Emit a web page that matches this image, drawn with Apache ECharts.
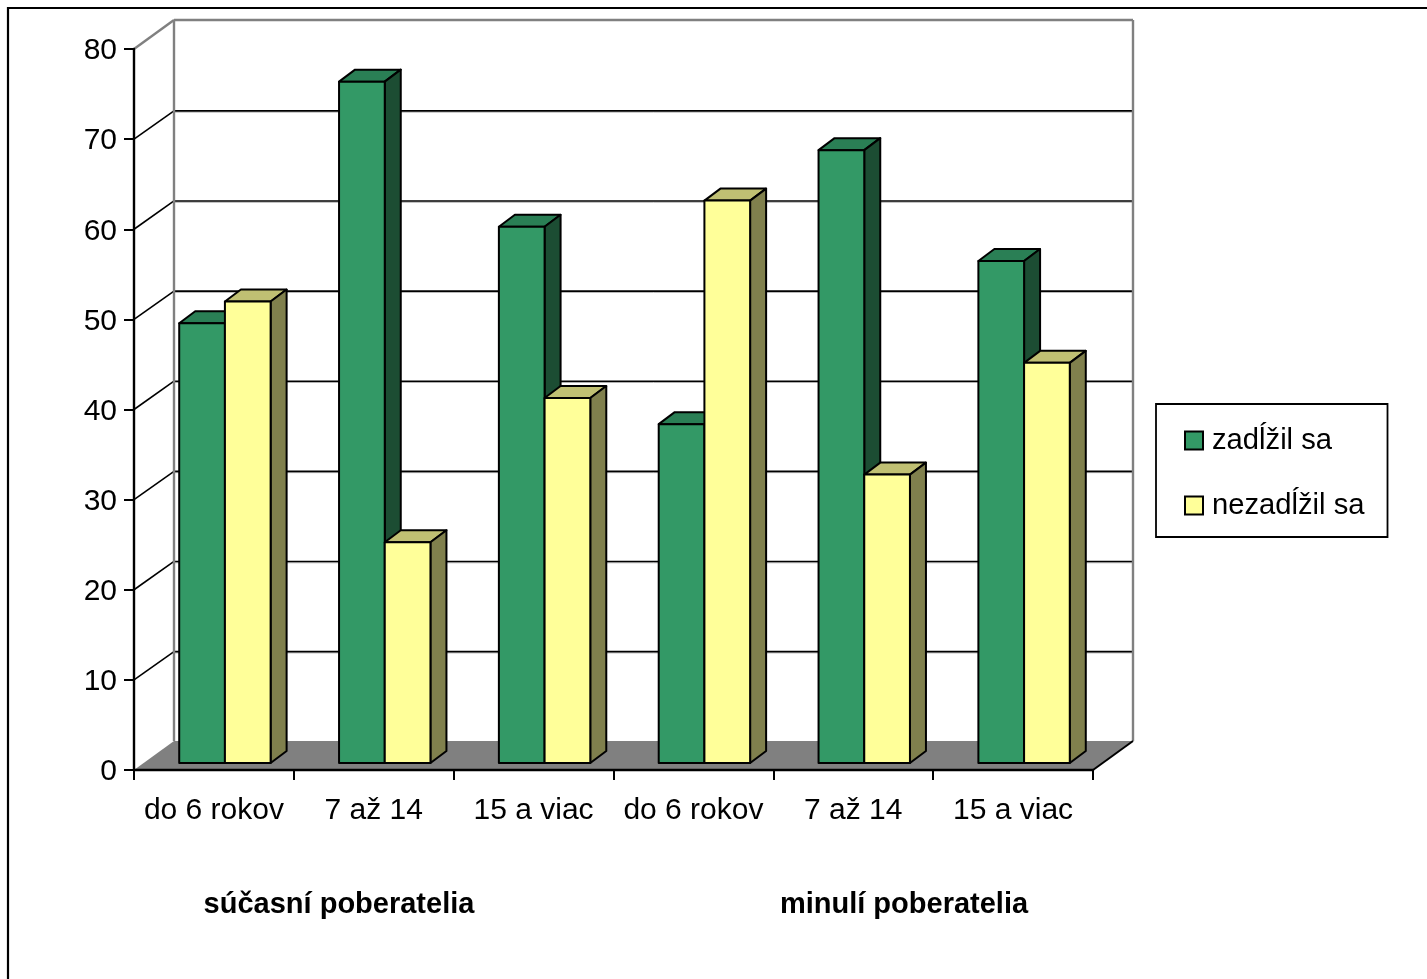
<!DOCTYPE html>
<html><head><meta charset="utf-8">
<style>html,body{margin:0;padding:0;background:#fff;overflow:hidden}#c{width:1427px;height:979px}</style>
<script src="https://cdn.jsdelivr.net/npm/echarts@6/dist/echarts.min.js"></script>
</head><body><div id="c"></div>
<script>
const categories = ['do 6 rokov','7 až 14','15 a viac','do 6 rokov','7 až 14','15 a viac'];
const zadlzil = [48.8,75.6,59.5,37.6,68,55.7];
const nezadlzil = [51.2,24.5,40.5,62.4,32,44.4];
const seriesNames = ['zadĺžil sa','nezadĺžil sa'];
const groupLabels = ['súčasní poberatelia','minulí poberatelia'];
const yTicks = [10,20,30,40,50,60,70];

const FONT = '"Liberation Sans", Arial, sans-serif';
const DX = 40, DY = -29;          // depth of the chart box
const BW = 45.7, BD_X = 16, BD_Y = -12, OFF_X = 11, OFF_Y = -7;  // bar box geometry

const chart = echarts.init(document.getElementById('c'), null, {renderer:'canvas'});

function barRender(side, front, top, sideCol){
  return function(params, api){
    const i = api.value(0), v = api.value(1);
    const p = api.coord([i, v]), b = api.coord([i, 0]);
    const cx = p[0] + OFF_X;
    const x0 = side === 0 ? cx - BW : cx, x1 = x0 + BW;
    const yT = p[1] + OFF_Y, yB = b[1] + OFF_Y;
    const ln = {stroke:'#000', lineWidth:2, lineJoin:'round'};
    return {type:'group', children:[
      {type:'polygon', shape:{points:[[x0,yT],[x1,yT],[x1+BD_X,yT+BD_Y],[x0+BD_X,yT+BD_Y]]}, style:{fill:top,...ln}},
      {type:'polygon', shape:{points:[[x1,yT],[x1+BD_X,yT+BD_Y],[x1+BD_X,yB+BD_Y],[x1,yB]]}, style:{fill:sideCol,...ln}},
      {type:'rect', shape:{x:x0,y:yT,width:BW,height:yB-yT}, style:{fill:front,...ln}}
    ]};
  };
}

function wallRender(params, api){
  const cs = params.coordSys;
  const L = cs.x, R = cs.x + cs.width;
  const yZ = api.coord([0,0])[1], yM = api.coord([0,80])[1];
  const gray = '#808080';
  const ch = [];
  ch.push({type:'polygon', shape:{points:[[L,yZ],[L+DX,yZ+DY],[R+DX,yZ+DY],[R,yZ]]}, style:{fill:gray, stroke:'none'}});
  yTicks.forEach(t=>{
    const y = api.coord([0,t])[1];
    ch.push({type:'line', shape:{x1:L+DX,y1:y+DY+2,x2:R+DX,y2:y+DY+2}, style:{stroke:'#b0b0b0',lineWidth:1}});
    ch.push({type:'line', shape:{x1:L+DX,y1:y+DY+0.7,x2:R+DX,y2:y+DY+0.7}, style:{stroke:'#000',lineWidth:1.6}});
    ch.push({type:'line', shape:{x1:L,y1:y,x2:L+DX,y2:y+DY+0.7}, style:{stroke:'#000',lineWidth:1.6}});
  });
  const w = {stroke:gray, lineWidth:2.4};
  ch.push({type:'line', shape:{x1:L+DX,y1:yM+DY,x2:L+DX,y2:yZ+DY}, style:w});
  ch.push({type:'line', shape:{x1:R+DX,y1:yM+DY,x2:R+DX,y2:yZ+DY}, style:w});
  ch.push({type:'line', shape:{x1:L+DX,y1:yM+DY,x2:R+DX,y2:yM+DY}, style:w});
  ch.push({type:'line', shape:{x1:L,y1:yM,x2:L+DX,y2:yM+DY}, style:w});
  ch.push({type:'line', shape:{x1:R,y1:yZ,x2:R+DX,y2:yZ+DY}, style:{stroke:'#000',lineWidth:2}});
  return {type:'group', children:ch};
}

chart.setOption({
  animation:false,
  backgroundColor:'#fff',
  textStyle:{fontFamily:FONT},
  grid:{left:134, top:49, width:959, height:721, containLabel:false},
  xAxis:{type:'category', data:categories, z:5,
    axisLine:{lineStyle:{color:'#000',width:2.4}},
    axisTick:{show:true,length:10,inside:false,alignWithLabel:false,lineStyle:{color:'#000',width:2}},
    axisLabel:{color:'#000',fontSize:30,fontFamily:FONT,margin:26,interval:0},
    splitLine:{show:false}},
  yAxis:{type:'value', min:0, max:80, interval:10, z:5,
    axisLine:{show:true,lineStyle:{color:'#000',width:2.4}},
    axisTick:{show:true,length:10,lineStyle:{color:'#000',width:2}},
    axisLabel:{color:'#000',fontSize:30,fontFamily:FONT,margin:17,verticalAlign:'top',lineHeight:4},
    splitLine:{show:false}},
  legend:{show:true, left:1156, top:404, orient:'vertical',
    data:seriesNames, icon:'rect', itemWidth:18, itemHeight:18, itemGap:36,
    padding:[22,23,17,28],
    backgroundColor:'#fff', borderColor:'#000', borderWidth:1.8,
    selectedMode:false,
    itemStyle:{borderColor:'#000',borderWidth:2},
    textStyle:{color:'#000',fontSize:29.2,fontFamily:FONT,lineHeight:18,padding:[0,0,0,4]}},
  graphic:[
    {type:'polyline', shape:{points:[[8,979],[8,8],[1427,8]]}, style:{stroke:'#000',lineWidth:2.2,fill:'none'}},
    {type:'text', x:339, y:905, style:{text:groupLabels[0],font:'bold 29px '+FONT,fill:'#000',textAlign:'center',textVerticalAlign:'middle'}},
    {type:'text', x:904, y:905, style:{text:groupLabels[1],font:'bold 29px '+FONT,fill:'#000',textAlign:'center',textVerticalAlign:'middle'}}
  ],
  series:[
    {type:'custom', name:'walls', z:1, silent:true, clip:false, renderItem:wallRender, data:[[0,0]], encode:{x:0,y:1}},
    {type:'custom', name:seriesNames[0], z:2, clip:false, itemStyle:{color:'#339966'},
      renderItem:barRender(0,'#339966','#2A7F55','#1C4D33'), encode:{x:0,y:1},
      data:zadlzil.map((v,i)=>[i,v])},
    {type:'custom', name:seriesNames[1], z:3, clip:false, itemStyle:{color:'#FFFF99'},
      renderItem:barRender(1,'#FFFF99','#C0C073','#80804D'), encode:{x:0,y:1},
      data:nezadlzil.map((v,i)=>[i,v])}
  ]
});
</script></body></html>
